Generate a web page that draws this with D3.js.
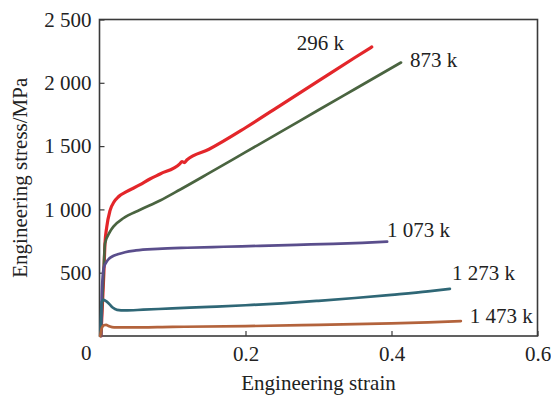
<!DOCTYPE html>
<html>
<head>
<meta charset="utf-8">
<script src="https://cdn.jsdelivr.net/npm/d3@7"></script>
<style>
  body { margin: 0; background: #fff; }
</style>
</head>
<body>
<div id="chart"></div>
<script>
// series names (temperature)
const seriesNames = ["296 k", "873 k", "1 073 k", "1 273 k", "1 473 k"];

// [strain, stress MPa]
const curve296 = [[0.002, 0], [0.004, 250], [0.006, 500], [0.0075, 730], [0.0099, 860], [0.0144, 990],
  [0.02, 1060], [0.026, 1100], [0.037, 1140], [0.055, 1193], [0.069, 1240], [0.083, 1280], [0.11, 1360],
  [0.113, 1378], [0.116, 1370], [0.12, 1392], [0.15, 1475], [0.2, 1645], [0.25, 1830], [0.3, 2015],
  [0.35, 2200], [0.373, 2283]];
const curve873 = [[0.002, 0], [0.004, 300], [0.006, 560], [0.0075, 730], [0.0144, 824], [0.02, 870],
  [0.0326, 930], [0.055, 995], [0.083, 1070], [0.11, 1155], [0.15, 1286], [0.2, 1452],
  [0.25, 1618], [0.3, 1785], [0.35, 1951], [0.413, 2160]];
const curve1073 = [[0.002, 0], [0.003, 300], [0.0045, 480], [0.006, 540], [0.009, 580], [0.013, 610],
  [0.018, 630], [0.025, 645], [0.035, 662], [0.05, 676], [0.08, 688], [0.12, 697], [0.17, 705],
  [0.22, 712], [0.27, 720], [0.32, 728], [0.36, 736], [0.394, 745]];
const curve1273 = [[0.001, 0], [0.002, 150], [0.003, 270], [0.005, 285], [0.009, 275], [0.013, 255],
  [0.018, 225], [0.024, 207], [0.035, 202], [0.06, 208], [0.1, 218], [0.15, 230], [0.2, 243],
  [0.25, 258], [0.3, 278], [0.35, 300], [0.4, 325], [0.45, 352], [0.48, 372]];
const curve1473 = [[0.001, 0], [0.003, 60], [0.006, 85], [0.009, 88], [0.013, 78], [0.02, 68],
  [0.04, 68], [0.1, 72], [0.2, 78], [0.3, 88], [0.4, 100], [0.45, 108], [0.495, 118]];

const xTicks = [0.2, 0.4, 0.6];
const xTickLabels = ["0.2", "0.4", "0.6"];
const yTicks = [500, 1000, 1500, 2000, 2500];
const yTickLabels = ["500", "1 000", "1 500", "2 000", "2 500"];

const curves = [curve296, curve873, curve1073, curve1273, curve1473];
const colors = ["#e3262a", "#4a6440", "#5a4e8c", "#2f6776", "#b3633c"];
const widths = [3.2, 2.7, 2.7, 2.7, 2.7];
// label offset from each curve's last point, px
const labelOffsets = [[-75, 3], [9, 4], [0, -5], [2, -9], [9, 1.5]];

const svgWidth = 551;
const svgHeight = 398;
const serif = "'Liberation Serif', 'Times New Roman', serif";
const fontSize = 21;

const svg = d3.select("#chart")
  .append("svg")
  .attr("width", svgWidth)
  .attr("height", svgHeight);

const x = d3.scaleLinear().domain([0, 0.6]).range([99.5, 537.5]);
const y = d3.scaleLinear().domain([0, 2500]).range([336, 19.5]);

// frame
svg.append("rect")
  .attr("x", x(0))
  .attr("y", y(2500))
  .attr("width", x(0.6) - x(0))
  .attr("height", y(0) - y(2500))
  .attr("fill", "none")
  .attr("stroke", "#3a3a3a")
  .attr("stroke-width", 1.6);

// axes, ticks pointing inside
const bottomAxis = d3.axisBottom(x)
  .tickValues(xTicks)
  .tickSizeInner(-5)
  .tickSizeOuter(0)
  .tickPadding(10)
  .tickFormat((d, i) => xTickLabels[i]);

const leftAxis = d3.axisLeft(y)
  .tickValues(yTicks)
  .tickSizeInner(-5)
  .tickSizeOuter(0)
  .tickPadding(8)
  .tickFormat((d, i) => yTickLabels[i]);

const gx = svg.append("g")
  .attr("transform", `translate(0, ${y(0)})`)
  .call(bottomAxis);

const gy = svg.append("g")
  .attr("transform", `translate(${x(0)}, 0)`)
  .call(leftAxis);

[gx, gy].forEach(g => {
  g.select(".domain").remove();
  g.selectAll(".tick line").attr("stroke", "#3a3a3a").attr("stroke-width", 1.2);
  g.selectAll(".tick text")
    .style("font-family", serif)
    .style("font-size", fontSize + "px")
    .attr("fill", "#222");
});

// origin label sits in the corner
svg.append("text")
  .attr("x", x(0) - 8)
  .attr("y", y(0) + 24)
  .attr("text-anchor", "end")
  .style("font-family", serif)
  .style("font-size", fontSize + "px")
  .attr("fill", "#222")
  .text("0");

// curves
const line = d3.line()
  .x(d => x(d[0]))
  .y(d => y(d[1]))
  .curve(d3.curveMonotoneX);

svg.append("g")
  .selectAll("path")
  .data(curves)
  .join("path")
  .attr("d", d => line(d))
  .attr("fill", "none")
  .attr("stroke", (d, i) => colors[i])
  .attr("stroke-width", (d, i) => widths[i])
  .attr("stroke-linejoin", "round")
  .attr("stroke-linecap", "round");

// series labels
svg.append("g")
  .selectAll("text")
  .data(curves)
  .join("text")
  .attr("x", (d, i) => x(d[d.length - 1][0]) + labelOffsets[i][0])
  .attr("y", (d, i) => y(d[d.length - 1][1]) + labelOffsets[i][1])
  .style("font-family", serif)
  .style("font-size", fontSize + "px")
  .attr("fill", "#222")
  .text((d, i) => seriesNames[i]);

// axis titles
svg.append("text")
  .attr("x", (x(0) + x(0.6)) / 2)
  .attr("y", 390)
  .attr("text-anchor", "middle")
  .style("font-family", serif)
  .style("font-size", fontSize + "px")
  .attr("fill", "#222")
  .text("Engineering strain");

svg.append("text")
  .attr("transform", `translate(27, ${(y(0) + y(2500)) / 2}) rotate(-90)`)
  .attr("text-anchor", "middle")
  .style("font-family", serif)
  .style("font-size", fontSize + "px")
  .attr("fill", "#222")
  .text("Engineering stress/MPa");
</script>
</body>
</html>
